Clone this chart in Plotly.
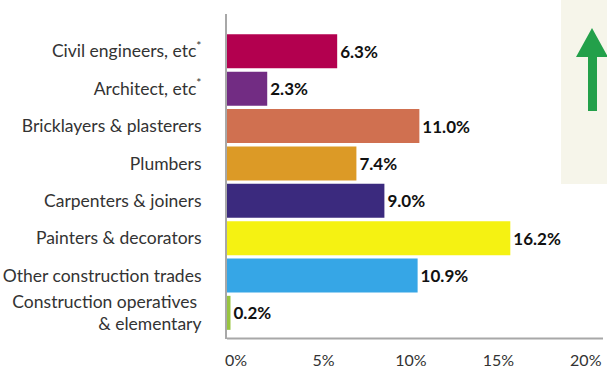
import plotly.graph_objects as go

categories = [
    "Civil engineers, etc<sup>*</sup>",
    "Architect, etc<sup>*</sup>",
    "Bricklayers & plasterers",
    "Plumbers",
    "Carpenters & joiners",
    "Painters & decorators",
    "Other construction trades",
    "Construction operatives <br>& elementary",
]
values = [6.3, 2.3, 11.0, 7.4, 9.0, 16.2, 10.9, 0.2]
bar_colors = ["#b3004f", "#722c83", "#d07050", "#dc9a26",
              "#3b2a7e", "#f5f212", "#36a6e6", "#98c440"]
tick_vals = [0, 5, 10, 15, 20]
tick_text = ["0%", "5%", "10%", "15%", "20%"]

W, H = 607, 367
L, R, T, B = 227, 4, 14, 28
pw, ph = W - L - R, H - T - B

def px(x):
    return (x - L) / pw

def py(y):
    return (H - B - y) / ph

fig = go.Figure()
fig.add_trace(go.Bar(
    x=values, y=categories, orientation="h",
    marker=dict(color=bar_colors, line=dict(width=0)),
    text=[f"{v:.1f}%" for v in values],
    textposition="outside",
    textfont=dict(family="Lato", size=17, color="#111111", weight="bold"),
    cliponaxis=False,
    hoverinfo="skip",
))

arrow = (f"M {px(592)},{py(28)} L {px(608)},{py(57)} L {px(597)},{py(57)} "
         f"L {px(597)},{py(111)} L {px(588)},{py(111)} L {px(588)},{py(57)} "
         f"L {px(576)},{py(57)} Z")

fig.update_layout(
    width=W, height=H,
    margin=dict(l=L, r=R, t=T, b=B),
    paper_bgcolor="white", plot_bgcolor="white",
    showlegend=False,
    bargap=0.09,
    font=dict(family="Lato", size=17, color="#333333"),
    xaxis=dict(
        range=[0, 21.5], tickvals=tick_vals, ticktext=tick_text,
        showgrid=False, zeroline=False, showline=False, automargin=False,
        ticks="outside", ticklen=7, tickcolor="rgba(0,0,0,0)",
        ticklabelshift=9,
        tickfont=dict(family="Lato", size=16, color="#333333"),
    ),
    yaxis=dict(
        type="category", range=[7.7, -1.0], automargin=False,
        showgrid=False, zeroline=False, showline=True,
        linecolor="#a8a8a8", linewidth=2, ticks="",
        ticklabelstandoff=20,
        tickfont=dict(family="Lato", size=17.5, color="#333333"),
    ),
    shapes=[
        dict(type="rect", xref="paper", yref="paper",
             x0=px(561), x1=px(608), y0=py(184), y1=py(0),
             fillcolor="#f6f5ea", line=dict(width=0), layer="below"),
        dict(type="path", xref="paper", yref="paper", path=arrow,
             fillcolor="#23a04a", line=dict(width=0)),
        dict(type="line", xref="paper", yref="paper",
             x0=0, x1=1, y0=py(338.5), y1=py(338.5),
             line=dict(color="#a8a8a8", width=2), layer="above"),
    ],
)

fig.write_html(
    "out.html",
    config={"displayModeBar": False},
    post_script="document.body.style.margin='0';document.body.style.overflow='hidden';",
)
